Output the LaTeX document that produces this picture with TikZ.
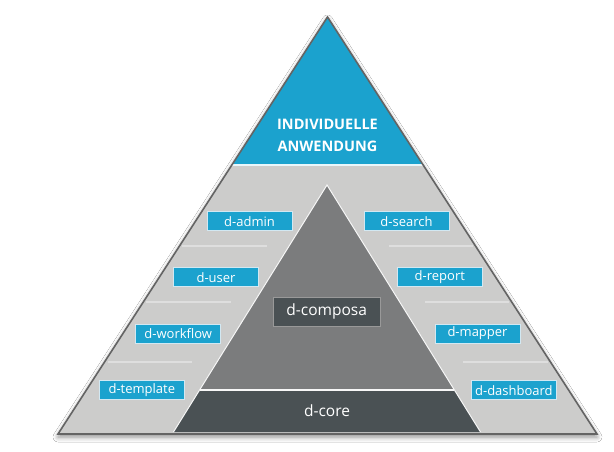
\documentclass[tikz,border=0pt]{standalone}
\usepackage{fontspec}
\setmainfont{Open Sans}
\usetikzlibrary{shadows.blur}
\definecolor{pblue}{RGB}{27,162,206}
\definecolor{lgray}{RGB}{204,204,203}
\definecolor{mgray}{RGB}{123,124,125}
\definecolor{dgray}{RGB}{74,81,84}
\definecolor{edgegray}{RGB}{100,100,100}
\definecolor{sepgray}{RGB}{222,222,222}
\definecolor{lblborder}{RGB}{210,232,242}
\tikzset{
  modbox/.style={fill=pblue, draw=lblborder, line width=1bp, minimum width=85bp, minimum height=19bp, inner sep=0pt, text=white, font=\fontsize{13bp}{15bp}\selectfont},
  sepline/.style={draw=sepgray, line width=1.3bp},
}
\begin{document}
\begin{tikzpicture}[x=1bp,y=-1bp]
\useasboundingbox (0,0) rectangle (614,452);
\fill[white] (0,0) rectangle (614,452);
\coordinate (A) at (327.5,17);
\coordinate (BL) at (58,434);
\coordinate (BR) at (597,434);
\path[fill=lgray, blur shadow={shadow xshift=0bp, shadow yshift=-3bp, shadow blur radius=5bp, shadow opacity=45}] (A) -- (BL) -- (BR) -- cycle;
% blue top
\coordinate (TL) at (231.9,165);
\coordinate (TR) at (423.1,165);
\fill[pblue] (A) -- (TL) -- (TR) -- cycle;
\draw[white!90!pblue, line width=1.5bp] (TL) -- (TR);
\node[text=white, align=center, font=\bfseries\fontsize{14.5bp}{22bp}\selectfont] (title) at (327.5,135) {INDIVIDUELLE\\ANWENDUNG};
% separator lines
\draw[sepline] (182,246) -- (267,246);
\draw[sepline] (146,302) -- (231,302);
\draw[sepline] (108,362) -- (192,362);
\draw[sepline] (389,246) -- (473,246);
\draw[sepline] (425,302) -- (509,302);
\draw[sepline] (463,362) -- (548,362);
% inner pyramid
\coordinate (IA) at (327,185);
\coordinate (IL) at (199.6,390);
\coordinate (IR) at (454.4,390);
\coordinate (CBL) at (173.5,432);
\coordinate (CBR) at (480.5,432);
\fill[mgray] (IA) -- (IL) -- (IR) -- cycle;
\fill[dgray] (IL) -- (CBL) -- (CBR) -- (IR) -- cycle;
\draw[white!85!lgray, line width=1bp] (CBL) -- (IA) -- (CBR);
\draw[white!85!lgray, line width=1.5bp] (IL) -- (IR);
\draw[edgegray, line width=1.6bp, line join=miter] (A) -- (BL) -- (BR) -- cycle;
% labels
\node[fill=dgray, draw=gray!80, line width=1bp, minimum width=107bp, minimum height=29bp, inner sep=0pt, text=white, font=\fontsize{15.5bp}{18bp}\selectfont] (composa) at (326.7,311.5) {d-composa};
\node[text=white, font=\fontsize{15.5bp}{18bp}\selectfont] (core) at (327,411) {d-core};
\node[modbox] (admin) at (249.5,221.3) {d-admin};
\node[modbox] (user) at (216,277.3) {d-user};
\node[modbox] (workflow) at (178.2,333.5) {d-workflow};
\node[modbox] (template) at (141.8,390.2) {d-template};
\node[modbox] (search) at (406.5,221.3) {d-search};
\node[modbox] (report) at (439.8,277.3) {d-report};
\node[modbox] (mapper) at (477.5,333.5) {d-mapper};
\node[modbox] (dashboard) at (513.9,390.2) {d-dashboard};
\end{tikzpicture}
\end{document}
